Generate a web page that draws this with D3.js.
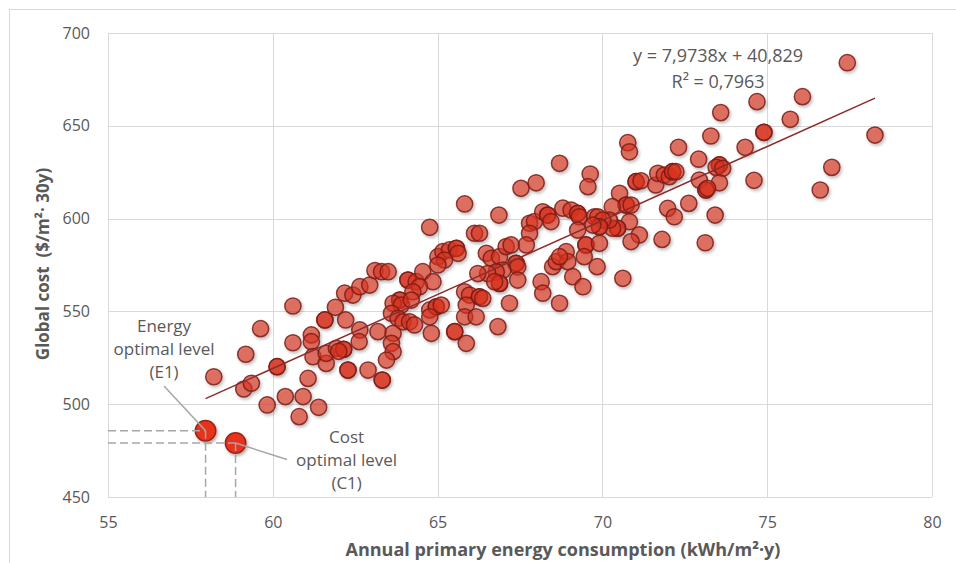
<!DOCTYPE html>
<html>
<head>
<meta charset="utf-8">
<script src="https://d3js.org/d3.v7.min.js"></script>
<style>
  html, body { margin: 0; padding: 0; background: #fff; }
  #chart { width: 956px; height: 563px; }
  text { font-family: "Open Sans", "DejaVu Sans", sans-serif; fill: #595959; }
</style>
</head>
<body>
<div id="chart"></div>
<script>
// scatter values: energy (kWh/m2.y) and global cost ($/m2.30y)
var energy = [
  60.61, 59.63, 59.18, 58.21, 59.12, 59.35, 60.13, 60.13, 59.83, 60.38, 60.92, 60.80, 61.39, 61.07, 60.61,
  61.17, 61.17, 61.22, 61.62, 61.62, 61.93, 62.15, 62.15, 62.00, 61.58, 61.58, 61.90, 62.21, 62.64, 62.62,
  63.19, 62.28, 62.28, 62.89, 63.32, 63.32, 62.18, 62.43, 62.64, 62.94, 63.10, 63.30, 63.50, 63.65, 63.60,
  63.65, 63.45,
  65.82, 66.86, 64.76, 66.12, 66.27, 67.79, 67.94, 68.19, 68.34, 68.34, 68.44, 68.80, 67.79, 67.69,
  65.01, 65.16, 65.36, 65.57, 65.57, 65.62, 65.21, 65.01, 66.48, 66.63, 66.88, 67.08, 67.23, 67.38, 67.38,
  67.43, 66.98, 66.78, 66.52, 66.22, 66.88, 66.88, 66.73, 67.43, 67.18, 68.14, 68.19, 68.70, 68.49, 68.60,
  68.90, 68.95, 66.83, 65.82, 65.97, 66.27, 66.27, 66.37, 65.87, 65.82, 66.17, 65.52, 65.52, 65.87,
  64.10, 64.10, 64.35, 64.55, 64.86, 64.45, 64.25, 63.85, 63.85, 63.65, 63.90, 64.20, 63.60, 63.80, 63.95,
  64.15, 64.30, 64.76, 64.96, 64.96, 65.11, 64.76, 64.81,
  73.59, 73.29, 74.33, 74.90, 74.90, 70.77, 70.82, 72.31, 72.92, 73.55, 73.55, 73.45, 73.65, 74.60, 73.55,
  72.94, 73.14, 73.14, 73.19, 72.62, 71.98, 72.18, 73.42, 71.81, 73.12, 70.62, 71.02, 71.02, 71.17, 71.62,
  71.68, 71.88, 72.03, 72.13, 72.13, 72.23, 69.63, 69.56, 68.70, 70.52, 70.72, 70.72, 70.87, 70.82, 71.12,
  70.87, 70.30, 70.46, 70.46, 70.31, 70.21, 69.05, 69.25, 69.25, 69.30, 69.76, 69.86, 70.01, 69.91, 69.91,
  69.71, 69.25, 69.50, 69.50, 69.91, 69.45, 69.84, 69.10, 69.41, 68.70,
  77.43, 76.07, 74.69, 75.70, 78.27, 76.96, 76.61, 67.53, 67.99
];
var cost = [
  552.9, 540.7, 526.9, 514.8, 508.2, 511.3, 520.2, 520.2, 499.6, 504.1, 504.1, 493.3, 498.3, 513.9, 533.1,
  537.3, 533.7, 525.6, 522.0, 527.4, 530.1, 529.6, 529.6, 528.5, 545.4, 545.4, 552.2, 545.4, 540.0, 533.7,
  539.1, 518.4, 518.4, 518.4, 513.0, 513.0, 559.8, 558.8, 563.3, 564.2, 572.0, 571.4, 571.4, 538.2, 532.8,
  528.3, 523.8,
  607.9, 601.9, 595.3, 592.1, 592.1, 597.5, 598.4, 603.7, 601.9, 601.9, 598.4, 605.6, 592.1, 585.8,
  579.5, 582.2, 583.1, 584.0, 584.0, 581.3, 577.7, 575.0, 581.3, 578.6, 579.5, 584.9, 585.8, 575.9, 575.9,
  574.0, 572.2, 571.3, 570.4, 570.4, 565.1, 565.1, 566.0, 566.9, 554.4, 566.0, 559.8, 554.4, 574.1, 576.8,
  582.2, 576.8, 541.8, 560.6, 558.8, 557.9, 557.9, 557.0, 553.4, 547.1, 547.1, 539.1, 539.1, 532.8,
  566.9, 566.9, 566.0, 571.4, 566.0, 563.3, 560.6, 556.1, 556.1, 554.4, 553.4, 556.1, 549.0, 546.3, 544.4,
  544.4, 542.7, 550.8, 552.5, 552.5, 553.4, 547.1, 538.2,
  657.1, 644.5, 638.4, 646.5, 646.5, 640.9, 636.0, 638.4, 632.0, 628.9, 628.9, 627.6, 627.1, 620.6, 619.3,
  620.8, 615.4, 615.4, 616.3, 608.2, 605.5, 601.0, 601.9, 588.8, 587.0, 567.8, 619.9, 619.9, 620.4, 618.1,
  624.4, 623.5, 622.6, 625.3, 625.3, 625.3, 624.0, 617.2, 629.8, 613.6, 607.3, 607.3, 607.3, 598.3, 591.2,
  587.6, 606.4, 594.8, 594.8, 594.8, 599.2, 604.6, 602.8, 602.8, 601.0, 601.0, 601.0, 599.2, 595.6, 595.6,
  596.5, 593.8, 585.8, 585.8, 586.7, 579.5, 574.1, 568.7, 563.3, 579.5,
  684.0, 665.7, 663.0, 653.5, 645.0, 627.6, 615.4, 616.3, 619.3
];

// the two highlighted solutions
var optimalNames = ['E1', 'C1'];
var optimalEnergy = [57.96, 58.87];
var optimalCost = [485.7, 479.1];

// linear trend as printed on the chart
var trendSlope = 7.9738;
var trendIntercept = 40.829;
var trendLabel = ['y = 7,9738x + 40,829', 'R² = 0,7963'];

// axis ticks
var xTicks = [55, 60, 65, 70, 75, 80];
var yTicks = [450, 500, 550, 600, 650, 700];

// annotation labels
var e1Lines = ['Energy', 'optimal level', '(E1)'];
var c1Lines = ['Cost', 'optimal level', '(C1)'];

var width = 956, height = 563;
var margin = { top: 33, right: 24, bottom: 66, left: 108 };

var svg = d3.select('#chart').append('svg')
  .attr('width', width)
  .attr('height', height);

// drop shadow used by the markers
var defs = svg.append('defs');
var shadow = defs.append('filter').attr('id', 'shadow')
  .attr('x', '-50%').attr('y', '-50%').attr('width', '200%').attr('height', '200%');
shadow.append('feDropShadow')
  .attr('dx', 1.4).attr('dy', 2).attr('stdDeviation', 1.5)
  .attr('flood-color', '#000').attr('flood-opacity', 0.32);

// outer chart frame, only top/left edge shows in the crop
svg.append('rect')
  .attr('x', 9.5).attr('y', 9.5)
  .attr('width', width + 20).attr('height', height + 20)
  .attr('fill', 'none').attr('stroke', '#d9d9d9');

var x = d3.scaleLinear().domain([55, 80]).range([margin.left, width - margin.right]);
var y = d3.scaleLinear().domain([450, 700]).range([height - margin.bottom, margin.top]);

// grid
var grid = svg.append('g');
grid.selectAll('.vgrid').data(xTicks).enter().append('line')
  .attr('x1', function (d) { return Math.round(x(d)) + 0.5; })
  .attr('x2', function (d) { return Math.round(x(d)) + 0.5; })
  .attr('y1', y(700)).attr('y2', y(450))
  .attr('stroke', '#d9d9d9').attr('stroke-width', 1);
grid.selectAll('.hgrid').data(yTicks).enter().append('line')
  .attr('y1', function (d) { return Math.round(y(d)) + 0.5; })
  .attr('y2', function (d) { return Math.round(y(d)) + 0.5; })
  .attr('x1', x(55)).attr('x2', x(80))
  .attr('stroke', '#d9d9d9').attr('stroke-width', 1);

// axes (labels only, excel style)
var xAxis = d3.axisBottom(x).tickValues(xTicks).tickSize(0).tickPadding(20);
var yAxis = d3.axisLeft(y).tickValues(yTicks).tickSize(0).tickPadding(18);

svg.append('g')
  .attr('transform', 'translate(0,' + y(450) + ')')
  .call(xAxis)
  .call(function (g) { g.select('.domain').remove(); })
  .selectAll('text')
  .style('font-size', '16px').style('fill', '#595959')
  .style('font-family', '"Open Sans", sans-serif');

svg.append('g')
  .attr('transform', 'translate(' + x(55) + ',0)')
  .call(yAxis)
  .call(function (g) { g.select('.domain').remove(); })
  .selectAll('text')
  .style('font-size', '16px').style('fill', '#595959')
  .style('font-family', '"Open Sans", sans-serif');

// axis titles
svg.append('text')
  .attr('x', 563).attr('y', 556)
  .attr('text-anchor', 'middle')
  .style('font-size', '18px').style('font-weight', 'bold')
  .text('Annual primary energy consumption (kWh/m²·y)');

svg.append('text')
  .attr('transform', 'translate(49,264) rotate(-90)')
  .attr('text-anchor', 'middle')
  .style('font-size', '17px').style('font-weight', 'bold')
  .style('white-space', 'pre')
  .text('Global cost  ($/m²· 30y)');

// scatter points
var points = energy.map(function (d, i) { return [d, cost[i]]; });

svg.append('g').attr('filter', 'url(#shadow)')
  .selectAll('circle').data(points).enter().append('circle')
  .attr('cx', function (d) { return x(d[0]); })
  .attr('cy', function (d) { return y(d[1]); })
  .attr('r', 8.1)
  .attr('fill', '#d9321f').attr('fill-opacity', 0.62)
  .attr('stroke', '#7a1c16').attr('stroke-opacity', 0.85).attr('stroke-width', 1.5);

// trendline over the data extent (optimal points included)
var allX = energy.concat(optimalEnergy);
var xExt = d3.extent(allX);
var line = d3.line()
  .x(function (d) { return x(d); })
  .y(function (d) { return y(trendSlope * d + trendIntercept); });
svg.append('path')
  .attr('d', line(xExt))
  .attr('fill', 'none')
  .attr('stroke', '#8e2a2a').attr('stroke-width', 1.5);

svg.selectAll('.eq').data(trendLabel).enter().append('text')
  .attr('x', x(73.51))
  .attr('y', function (d, i) { return 62 + i * 26; })
  .attr('text-anchor', 'middle')
  .style('font-size', '18px')
  .text(function (d) { return d; });

// optimal points
var optimal = optimalEnergy.map(function (d, i) { return [d, optimalCost[i]]; });
svg.append('g').attr('filter', 'url(#shadow)')
  .selectAll('circle').data(optimal).enter().append('circle')
  .attr('cx', function (d) { return x(d[0]); })
  .attr('cy', function (d) { return y(d[1]); })
  .attr('r', 10.2)
  .attr('fill', '#e8321e')
  .attr('stroke', '#9c2418').attr('stroke-width', 1.5);

// dashed guides to the axes
var guides = svg.append('g')
  .attr('stroke', '#a6a6a6').attr('stroke-width', 1.5)
  .attr('stroke-dasharray', '8,4').attr('fill', 'none');
optimal.forEach(function (d) {
  guides.append('line')
    .attr('x1', x(55)).attr('x2', x(d[0]))
    .attr('y1', y(d[1])).attr('y2', y(d[1]));
  guides.append('line')
    .attr('x1', x(d[0])).attr('x2', x(d[0]))
    .attr('y1', y(d[1])).attr('y2', y(450));
});

// annotation labels with leader lines
function annotate(lines, cx, cy, from, to) {
  svg.append('line')
    .attr('x1', x(from[0])).attr('y1', y(from[1]))
    .attr('x2', x(to[0])).attr('y2', y(to[1]))
    .attr('stroke', '#a6a6a6').attr('stroke-width', 1.5);
  svg.selectAll(null).data(lines).enter().append('text')
    .attr('x', x(cx))
    .attr('y', function (d, i) { return y(cy) + 6 + i * 23; })
    .attr('text-anchor', 'middle')
    .style('font-size', '17px')
    .text(function (d) { return d; });
}
annotate(e1Lines, 56.7, 542.1, [56.7, 509.8], [optimalEnergy[0], optimalCost[0]]);
annotate(c1Lines, 62.24, 482.3, [optimalEnergy[1], optimalCost[1]], [60.43, 470.2]);
</script>
</body>
</html>
